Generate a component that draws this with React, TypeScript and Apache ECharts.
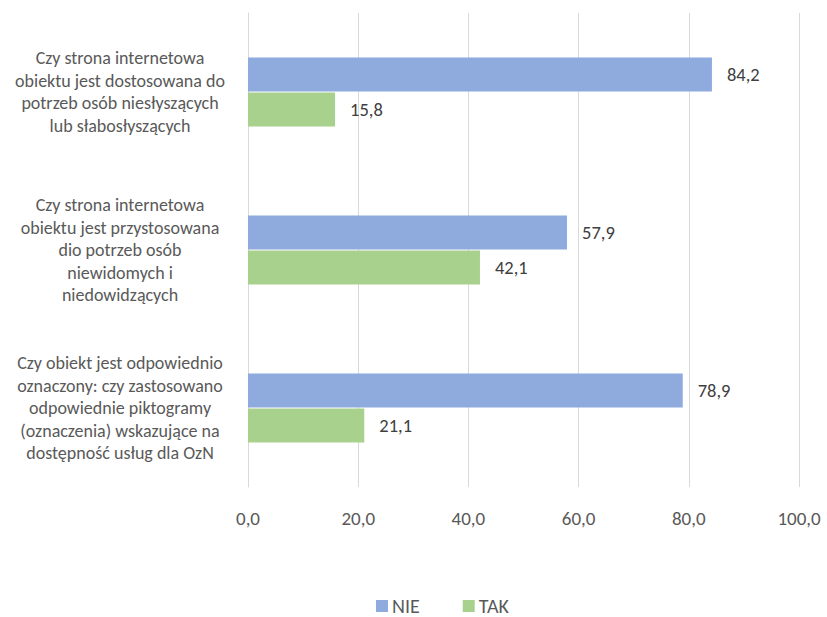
import React, { useEffect, useRef } from "react";
import * as echarts from "echarts";

const categories = [
  "Czy strona internetowa\nobiektu jest dostosowana do\npotrzeb osób niesłyszących\nlub słabosłyszących",
  "Czy strona internetowa\nobiektu jest przystosowana\ndio potrzeb osób\nniewidomych i\nniedowidzących",
  "Czy obiekt jest odpowiednio\noznaczony: czy zastosowano\nodpowiednie piktogramy\n(oznaczenia) wskazujące na\ndostępność usług dla OzN",
];
const nieValues = [84.2, 57.9, 78.9];
const takValues = [15.8, 42.1, 21.1];
const seriesNames = ["NIE", "TAK"];
const colors = ["#8FAADC", "#A9D18E"];

const fmt = (v: number) => v.toFixed(1).replace(".", ",");

export default function App() {
  const ref = useRef<HTMLDivElement>(null);
  useEffect(() => {
    if (!ref.current) return;
    const chart = echarts.init(ref.current, null, { renderer: "svg" });
    const font = "Carlito, Lato, 'Open Sans', sans-serif";
    const valueLabel = {
      show: true,
      position: "right",
      distance: 15,
      formatter: (p: any) => fmt(p.value),
      fontSize: 18.5,
      color: "#404040",
      fontFamily: font,
    };
    chart.setOption({
      animation: false,
      textStyle: { fontFamily: font },
      grid: { left: 248, right: 28, top: 13, bottom: 130, containLabel: false },
      legend: {
        top: 596,
        left: 376,
        itemWidth: 12,
        itemHeight: 12,
        itemGap: 43,
        icon: "rect",
        padding: 0,
        textStyle: { fontSize: 20, color: "#595959", fontFamily: font, padding: [0, 0, 0, -1] },
        data: seriesNames,
      },
      xAxis: {
        type: "value",
        min: 0,
        max: 100,
        interval: 20,
        axisLabel: {
          formatter: (v: number) => fmt(v),
          fontSize: 19,
          color: "#595959",
          margin: 22,
          fontFamily: font,
        },
        splitLine: { lineStyle: { color: "#D9D9D9", width: 1 } },
        axisLine: { show: false },
        axisTick: { show: false },
      },
      yAxis: {
        type: "category",
        inverse: true,
        data: categories,
        axisLine: { show: true, lineStyle: { color: "#D9D9D9" } },
        axisTick: { show: false },
        axisLabel: {
          align: "center",
          margin: 128,
          fontSize: 18,
          lineHeight: 22.5,
          color: "#595959",
          fontFamily: font,
          padding: [5, 0, 0, 0],
        },
      },
      series: [
        {
          name: seriesNames[0],
          type: "bar",
          data: nieValues,
          barWidth: 34,
          barGap: "3%",
          itemStyle: { color: colors[0] },
          label: valueLabel,
        },
        {
          name: seriesNames[1],
          type: "bar",
          data: takValues,
          barWidth: 34,
          barGap: "3%",
          itemStyle: { color: colors[1] },
          label: valueLabel,
        },
      ],
    });
    return () => chart.dispose();
  }, []);
  return (
    <div
      ref={ref}
      style={{ position: "absolute", left: 0, top: 0, width: 827, height: 617 }}
    />
  );
}
